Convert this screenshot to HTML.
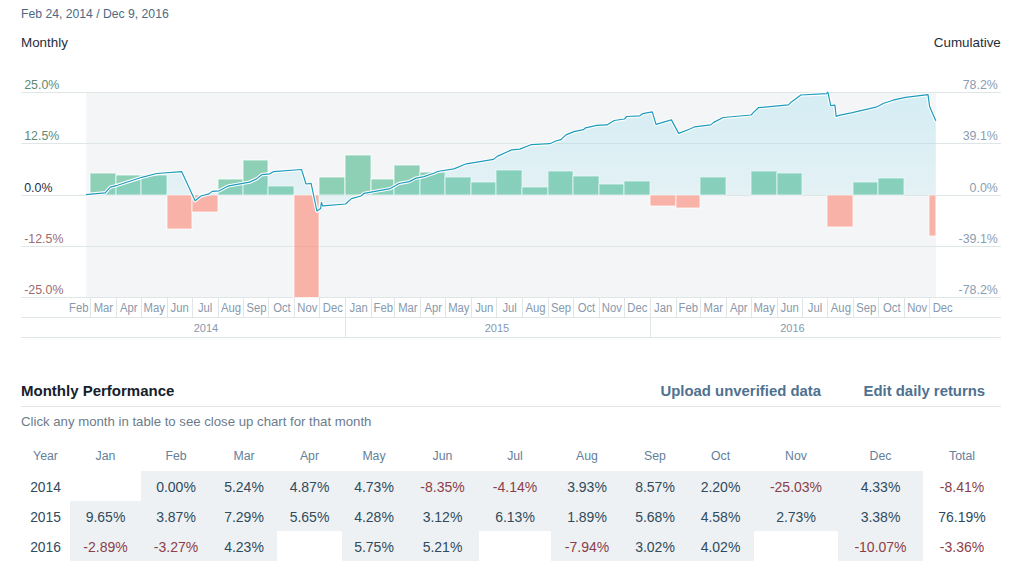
<!DOCTYPE html>
<html><head><meta charset="utf-8"><title>Performance</title>
<style>
html,body{margin:0;padding:0;background:#fff;}
body{width:1012px;height:580px;position:relative;overflow:hidden;font-family:"Liberation Sans",sans-serif;}
.abs{position:absolute;white-space:nowrap;line-height:1;}
.date{left:21px;top:8.4px;font-size:12.2px;color:#4d6a84;}
.lbl{top:36.4px;font-size:13.4px;color:#1f2d3a;}
.chart{position:absolute;left:0;top:0;}
.chart text{font-family:"Liberation Sans",sans-serif;}
.ax{font-size:12.4px;}
.mx{font-size:12px;fill:#8799ad;}
.yx{font-size:11px;}
.h2{left:21px;top:383.4px;font-size:15px;font-weight:bold;color:#15202b;}
.lnk{top:383.6px;font-size:14.9px;font-weight:bold;color:#4f7190;}
.rule{position:absolute;left:21px;top:406px;width:980px;height:1px;background:#e1e6e9;}
.hint{left:21px;top:414.5px;font-size:13.2px;color:#6b7c8c;}
table.perf{position:absolute;left:21px;top:441px;border-collapse:collapse;table-layout:fixed;width:980px;}
.perf td{padding:3px 0 0 0;height:27px;line-height:27px;text-align:center;font-size:14px;color:#2f4b5c;}
.perf tr.hd td{font-size:12.3px;color:#64809a;padding:0;height:30px;line-height:30px;}
.perf td.v{background:#eef1f4;}
.perf td.yr{font-size:13.8px;}
.perf td.neg{color:#8a3f49;}
</style></head><body>
<div class="abs date">Feb 24, 2014 / Dec 9, 2016</div>
<div class="abs lbl" style="left:21px">Monthly</div>
<div class="abs lbl" style="left:933.8px">Cumulative</div>
<svg class="chart" width="1012" height="345" viewBox="0 0 1012 345">
<defs><linearGradient id="fillg" x1="0" y1="0" x2="0" y2="1"><stop offset="0" stop-color="#4ccbe3" stop-opacity="0.19"/><stop offset="1" stop-color="#4ccbe3" stop-opacity="0.08"/></linearGradient><clipPath id="plotclip"><rect x="86.28" y="80" width="849.62" height="218"/></clipPath></defs>
<rect x="86.28" y="92.5" width="849.62" height="205" fill="#f4f5f7"/>
<line x1="21" x2="1001" y1="92.50" y2="92.50" stroke="#dfe6e6" stroke-width="1"/>
<line x1="21" x2="1001" y1="143.50" y2="143.50" stroke="#dfe6e6" stroke-width="1"/>
<line x1="21" x2="1001" y1="195.50" y2="195.50" stroke="#dfe6e6" stroke-width="1"/>
<line x1="21" x2="1001" y1="246.50" y2="246.50" stroke="#dfe6e6" stroke-width="1"/>
<line x1="21" x2="1001" y1="297.50" y2="297.50" stroke="#dfe6e6" stroke-width="1"/>
<rect x="90.00" y="173.00" width="26.00" height="22.00" fill="#4ab78b" fill-opacity="0.6" stroke="#ffffff" stroke-opacity="0.75" stroke-width="1"/>
<rect x="116.00" y="175.00" width="25.00" height="20.00" fill="#4ab78b" fill-opacity="0.6" stroke="#ffffff" stroke-opacity="0.75" stroke-width="1"/>
<rect x="141.00" y="175.00" width="26.00" height="20.00" fill="#4ab78b" fill-opacity="0.6" stroke="#ffffff" stroke-opacity="0.75" stroke-width="1"/>
<rect x="167.00" y="195.00" width="25.00" height="34.00" fill="#fb8573" fill-opacity="0.6" stroke="#ffffff" stroke-opacity="0.75" stroke-width="1"/>
<rect x="192.00" y="195.00" width="26.00" height="17.00" fill="#fb8573" fill-opacity="0.6" stroke="#ffffff" stroke-opacity="0.75" stroke-width="1"/>
<rect x="218.00" y="179.00" width="25.00" height="16.00" fill="#4ab78b" fill-opacity="0.6" stroke="#ffffff" stroke-opacity="0.75" stroke-width="1"/>
<rect x="243.00" y="160.00" width="25.00" height="35.00" fill="#4ab78b" fill-opacity="0.6" stroke="#ffffff" stroke-opacity="0.75" stroke-width="1"/>
<rect x="268.00" y="186.00" width="26.00" height="9.00" fill="#4ab78b" fill-opacity="0.6" stroke="#ffffff" stroke-opacity="0.75" stroke-width="1"/>
<rect x="294.00" y="195.00" width="25.00" height="102.50" fill="#fb8573" fill-opacity="0.6" stroke="#ffffff" stroke-opacity="0.75" stroke-width="1"/>
<rect x="319.00" y="177.00" width="26.00" height="18.00" fill="#4ab78b" fill-opacity="0.6" stroke="#ffffff" stroke-opacity="0.75" stroke-width="1"/>
<rect x="345.00" y="155.00" width="26.00" height="40.00" fill="#4ab78b" fill-opacity="0.6" stroke="#ffffff" stroke-opacity="0.75" stroke-width="1"/>
<rect x="371.00" y="179.00" width="23.00" height="16.00" fill="#4ab78b" fill-opacity="0.6" stroke="#ffffff" stroke-opacity="0.75" stroke-width="1"/>
<rect x="394.00" y="165.00" width="26.00" height="30.00" fill="#4ab78b" fill-opacity="0.6" stroke="#ffffff" stroke-opacity="0.75" stroke-width="1"/>
<rect x="420.00" y="172.00" width="25.00" height="23.00" fill="#4ab78b" fill-opacity="0.6" stroke="#ffffff" stroke-opacity="0.75" stroke-width="1"/>
<rect x="445.00" y="177.00" width="26.00" height="18.00" fill="#4ab78b" fill-opacity="0.6" stroke="#ffffff" stroke-opacity="0.75" stroke-width="1"/>
<rect x="471.00" y="182.00" width="25.00" height="13.00" fill="#4ab78b" fill-opacity="0.6" stroke="#ffffff" stroke-opacity="0.75" stroke-width="1"/>
<rect x="496.00" y="170.00" width="26.00" height="25.00" fill="#4ab78b" fill-opacity="0.6" stroke="#ffffff" stroke-opacity="0.75" stroke-width="1"/>
<rect x="522.00" y="187.00" width="26.00" height="8.00" fill="#4ab78b" fill-opacity="0.6" stroke="#ffffff" stroke-opacity="0.75" stroke-width="1"/>
<rect x="548.00" y="171.00" width="25.00" height="24.00" fill="#4ab78b" fill-opacity="0.6" stroke="#ffffff" stroke-opacity="0.75" stroke-width="1"/>
<rect x="573.00" y="176.00" width="26.00" height="19.00" fill="#4ab78b" fill-opacity="0.6" stroke="#ffffff" stroke-opacity="0.75" stroke-width="1"/>
<rect x="599.00" y="184.00" width="25.00" height="11.00" fill="#4ab78b" fill-opacity="0.6" stroke="#ffffff" stroke-opacity="0.75" stroke-width="1"/>
<rect x="624.00" y="181.00" width="26.00" height="14.00" fill="#4ab78b" fill-opacity="0.6" stroke="#ffffff" stroke-opacity="0.75" stroke-width="1"/>
<rect x="650.00" y="195.00" width="26.00" height="11.00" fill="#fb8573" fill-opacity="0.6" stroke="#ffffff" stroke-opacity="0.75" stroke-width="1"/>
<rect x="676.00" y="195.00" width="24.00" height="13.00" fill="#fb8573" fill-opacity="0.6" stroke="#ffffff" stroke-opacity="0.75" stroke-width="1"/>
<rect x="700.00" y="177.00" width="26.00" height="18.00" fill="#4ab78b" fill-opacity="0.6" stroke="#ffffff" stroke-opacity="0.75" stroke-width="1"/>
<rect x="751.00" y="171.00" width="26.00" height="24.00" fill="#4ab78b" fill-opacity="0.6" stroke="#ffffff" stroke-opacity="0.75" stroke-width="1"/>
<rect x="777.00" y="173.00" width="25.00" height="22.00" fill="#4ab78b" fill-opacity="0.6" stroke="#ffffff" stroke-opacity="0.75" stroke-width="1"/>
<rect x="827.00" y="195.00" width="26.00" height="32.00" fill="#fb8573" fill-opacity="0.6" stroke="#ffffff" stroke-opacity="0.75" stroke-width="1"/>
<rect x="853.00" y="182.00" width="25.00" height="13.00" fill="#4ab78b" fill-opacity="0.6" stroke="#ffffff" stroke-opacity="0.75" stroke-width="1"/>
<rect x="878.00" y="178.00" width="26.00" height="17.00" fill="#4ab78b" fill-opacity="0.6" stroke="#ffffff" stroke-opacity="0.75" stroke-width="1"/>
<rect x="929.00" y="195.00" width="6.90" height="41.00" fill="#fb8573" fill-opacity="0.6" stroke="#ffffff" stroke-opacity="0.75" stroke-width="1"/>
<g clip-path="url(#plotclip)"><polygon points="85.9,195.0 85.9,194.7 105.2,192.8 110.3,187.2 116.1,185.7 141.8,177.3 156.6,173.5 181.6,171.6 195.1,200.8 200.9,196.0 209.0,193.9 212.2,191.4 219.3,190.8 227.6,186.2 249.5,182.1 256.5,178.9 261.7,174.7 270.0,173.8 273.5,171.6 301.5,169.5 306.0,184.0 311.1,183.4 316.9,211.0 320.7,208.4 321.4,202.4 322.7,205.9 345.6,204.0 351.5,198.6 361.0,196.0 364.0,193.3 390.3,188.6 399.1,183.5 409.4,181.6 416.0,178.1 424.0,176.6 435.8,172.5 437.3,171.5 453.9,168.9 466.4,163.8 493.5,159.4 497.2,156.4 511.8,149.8 519.9,149.1 530.9,144.7 549.9,143.7 555.8,141.0 560.9,139.6 566.0,134.9 573.9,131.6 583.4,129.7 585.6,127.8 596.6,125.3 606.9,124.9 614.2,120.5 624.5,119.0 626.7,116.5 639.9,115.8 642.8,113.6 652.3,111.8 656.0,124.3 671.4,119.9 678.7,133.4 690.0,129.0 694.7,126.8 710.8,124.9 713.7,122.4 723.2,117.5 751.1,115.0 753.3,112.6 758.4,107.7 788.5,104.8 791.4,101.9 800.9,95.0 826.4,93.7 827.9,92.1 830.7,105.6 834.9,105.1 836.2,116.5 838.8,115.4 851.2,112.9 876.0,107.2 883.8,103.3 893.1,100.2 905.5,97.4 928.0,94.7 929.6,106.4 935.8,120.7 935.8,195.0" fill="url(#fillg)"/></g>
<polyline points="85.9,194.7 105.2,192.8 110.3,187.2 116.1,185.7 141.8,177.3 156.6,173.5 181.6,171.6 195.1,200.8 200.9,196.0 209.0,193.9 212.2,191.4 219.3,190.8 227.6,186.2 249.5,182.1 256.5,178.9 261.7,174.7 270.0,173.8 273.5,171.6 301.5,169.5 306.0,184.0 311.1,183.4 316.9,211.0 320.7,208.4 321.4,202.4 322.7,205.9 345.6,204.0 351.5,198.6 361.0,196.0 364.0,193.3 390.3,188.6 399.1,183.5 409.4,181.6 416.0,178.1 424.0,176.6 435.8,172.5 437.3,171.5 453.9,168.9 466.4,163.8 493.5,159.4 497.2,156.4 511.8,149.8 519.9,149.1 530.9,144.7 549.9,143.7 555.8,141.0 560.9,139.6 566.0,134.9 573.9,131.6 583.4,129.7 585.6,127.8 596.6,125.3 606.9,124.9 614.2,120.5 624.5,119.0 626.7,116.5 639.9,115.8 642.8,113.6 652.3,111.8 656.0,124.3 671.4,119.9 678.7,133.4 690.0,129.0 694.7,126.8 710.8,124.9 713.7,122.4 723.2,117.5 751.1,115.0 753.3,112.6 758.4,107.7 788.5,104.8 791.4,101.9 800.9,95.0 826.4,93.7 827.9,92.1 830.7,105.6 834.9,105.1 836.2,116.5 838.8,115.4 851.2,112.9 876.0,107.2 883.8,103.3 893.1,100.2 905.5,97.4 928.0,94.7 929.6,106.4 935.8,120.7" fill="none" stroke="#ffffff" stroke-width="3.4" stroke-linejoin="round" stroke-opacity="1"/>
<polyline points="85.9,194.7 105.2,192.8 110.3,187.2 116.1,185.7 141.8,177.3 156.6,173.5 181.6,171.6 195.1,200.8 200.9,196.0 209.0,193.9 212.2,191.4 219.3,190.8 227.6,186.2 249.5,182.1 256.5,178.9 261.7,174.7 270.0,173.8 273.5,171.6 301.5,169.5 306.0,184.0 311.1,183.4 316.9,211.0 320.7,208.4 321.4,202.4 322.7,205.9 345.6,204.0 351.5,198.6 361.0,196.0 364.0,193.3 390.3,188.6 399.1,183.5 409.4,181.6 416.0,178.1 424.0,176.6 435.8,172.5 437.3,171.5 453.9,168.9 466.4,163.8 493.5,159.4 497.2,156.4 511.8,149.8 519.9,149.1 530.9,144.7 549.9,143.7 555.8,141.0 560.9,139.6 566.0,134.9 573.9,131.6 583.4,129.7 585.6,127.8 596.6,125.3 606.9,124.9 614.2,120.5 624.5,119.0 626.7,116.5 639.9,115.8 642.8,113.6 652.3,111.8 656.0,124.3 671.4,119.9 678.7,133.4 690.0,129.0 694.7,126.8 710.8,124.9 713.7,122.4 723.2,117.5 751.1,115.0 753.3,112.6 758.4,107.7 788.5,104.8 791.4,101.9 800.9,95.0 826.4,93.7 827.9,92.1 830.7,105.6 834.9,105.1 836.2,116.5 838.8,115.4 851.2,112.9 876.0,107.2 883.8,103.3 893.1,100.2 905.5,97.4 928.0,94.7 929.6,106.4 935.8,120.7" fill="none" stroke="#1f9bbd" stroke-width="1.2" stroke-linejoin="round"/>
<text x="24.2" y="89.00" class="ax" fill="#5e8a74">25.0%</text>
<text x="24.2" y="140.00" class="ax" fill="#5e8a74">12.5%</text>
<text x="24.2" y="192.00" class="ax" fill="#1f2f42">0.0%</text>
<text x="24.2" y="243.00" class="ax" fill="#9d6c70">-12.5%</text>
<text x="24.2" y="294.00" class="ax" fill="#9d6c70">-25.0%</text>
<text x="997.8" y="89.00" class="ax" text-anchor="end" fill="#8b9db0">78.2%</text>
<text x="997.8" y="140.00" class="ax" text-anchor="end" fill="#8b9db0">39.1%</text>
<text x="997.8" y="192.00" class="ax" text-anchor="end" fill="#8b9db0">0.0%</text>
<text x="997.8" y="243.00" class="ax" text-anchor="end" fill="#8b9db0">-39.1%</text>
<text x="997.8" y="294.00" class="ax" text-anchor="end" fill="#8b9db0">-78.2%</text>
<line x1="21" x2="1001" y1="317.5" y2="317.5" stroke="#dfe6e6" stroke-width="1"/>
<line x1="21" x2="1001" y1="337.5" y2="337.5" stroke="#dfe6e6" stroke-width="1"/>
<text x="78.77" y="312" class="mx" text-anchor="middle" textLength="19.45" lengthAdjust="spacingAndGlyphs">Feb</text>
<line x1="90.5" x2="90.5" y1="297.5" y2="317.5" stroke="#dfe6e6" stroke-width="1"/>
<text x="103.38" y="312" class="mx" text-anchor="middle" textLength="19.44" lengthAdjust="spacingAndGlyphs">Mar</text>
<line x1="116.5" x2="116.5" y1="297.5" y2="317.5" stroke="#dfe6e6" stroke-width="1"/>
<text x="128.83" y="312" class="mx" text-anchor="middle" textLength="17.57" lengthAdjust="spacingAndGlyphs">Apr</text>
<line x1="141.5" x2="141.5" y1="297.5" y2="317.5" stroke="#dfe6e6" stroke-width="1"/>
<text x="154.27" y="312" class="mx" text-anchor="middle" textLength="21.33" lengthAdjust="spacingAndGlyphs">May</text>
<line x1="167.5" x2="167.5" y1="297.5" y2="317.5" stroke="#dfe6e6" stroke-width="1"/>
<text x="179.72" y="312" class="mx" text-anchor="middle" textLength="18.20" lengthAdjust="spacingAndGlyphs">Jun</text>
<line x1="192.5" x2="192.5" y1="297.5" y2="317.5" stroke="#dfe6e6" stroke-width="1"/>
<text x="205.17" y="312" class="mx" text-anchor="middle" textLength="14.43" lengthAdjust="spacingAndGlyphs">Jul</text>
<line x1="218.5" x2="218.5" y1="297.5" y2="317.5" stroke="#dfe6e6" stroke-width="1"/>
<text x="231.03" y="312" class="mx" text-anchor="middle" textLength="20.09" lengthAdjust="spacingAndGlyphs">Aug</text>
<line x1="243.5" x2="243.5" y1="297.5" y2="317.5" stroke="#dfe6e6" stroke-width="1"/>
<text x="256.47" y="312" class="mx" text-anchor="middle" textLength="20.09" lengthAdjust="spacingAndGlyphs">Sep</text>
<line x1="268.5" x2="268.5" y1="297.5" y2="317.5" stroke="#dfe6e6" stroke-width="1"/>
<text x="281.92" y="312" class="mx" text-anchor="middle" textLength="17.56" lengthAdjust="spacingAndGlyphs">Oct</text>
<line x1="294.5" x2="294.5" y1="297.5" y2="317.5" stroke="#dfe6e6" stroke-width="1"/>
<text x="307.37" y="312" class="mx" text-anchor="middle" textLength="20.08" lengthAdjust="spacingAndGlyphs">Nov</text>
<line x1="319.5" x2="319.5" y1="297.5" y2="317.5" stroke="#dfe6e6" stroke-width="1"/>
<text x="332.81" y="312" class="mx" text-anchor="middle" textLength="20.08" lengthAdjust="spacingAndGlyphs">Dec</text>
<line x1="345.5" x2="345.5" y1="297.5" y2="337.5" stroke="#dfe6e6" stroke-width="1"/>
<text x="358.68" y="312" class="mx" text-anchor="middle" textLength="18.20" lengthAdjust="spacingAndGlyphs">Jan</text>
<line x1="371.5" x2="371.5" y1="297.5" y2="317.5" stroke="#dfe6e6" stroke-width="1"/>
<text x="383.29" y="312" class="mx" text-anchor="middle" textLength="19.45" lengthAdjust="spacingAndGlyphs">Feb</text>
<line x1="394.5" x2="394.5" y1="297.5" y2="317.5" stroke="#dfe6e6" stroke-width="1"/>
<text x="407.90" y="312" class="mx" text-anchor="middle" textLength="19.44" lengthAdjust="spacingAndGlyphs">Mar</text>
<line x1="420.5" x2="420.5" y1="297.5" y2="317.5" stroke="#dfe6e6" stroke-width="1"/>
<text x="433.34" y="312" class="mx" text-anchor="middle" textLength="17.57" lengthAdjust="spacingAndGlyphs">Apr</text>
<line x1="445.5" x2="445.5" y1="297.5" y2="317.5" stroke="#dfe6e6" stroke-width="1"/>
<text x="458.79" y="312" class="mx" text-anchor="middle" textLength="21.33" lengthAdjust="spacingAndGlyphs">May</text>
<line x1="471.5" x2="471.5" y1="297.5" y2="317.5" stroke="#dfe6e6" stroke-width="1"/>
<text x="484.24" y="312" class="mx" text-anchor="middle" textLength="18.20" lengthAdjust="spacingAndGlyphs">Jun</text>
<line x1="496.5" x2="496.5" y1="297.5" y2="317.5" stroke="#dfe6e6" stroke-width="1"/>
<text x="509.68" y="312" class="mx" text-anchor="middle" textLength="14.43" lengthAdjust="spacingAndGlyphs">Jul</text>
<line x1="522.5" x2="522.5" y1="297.5" y2="317.5" stroke="#dfe6e6" stroke-width="1"/>
<text x="535.55" y="312" class="mx" text-anchor="middle" textLength="20.09" lengthAdjust="spacingAndGlyphs">Aug</text>
<line x1="548.5" x2="548.5" y1="297.5" y2="317.5" stroke="#dfe6e6" stroke-width="1"/>
<text x="560.99" y="312" class="mx" text-anchor="middle" textLength="20.09" lengthAdjust="spacingAndGlyphs">Sep</text>
<line x1="573.5" x2="573.5" y1="297.5" y2="317.5" stroke="#dfe6e6" stroke-width="1"/>
<text x="586.44" y="312" class="mx" text-anchor="middle" textLength="17.56" lengthAdjust="spacingAndGlyphs">Oct</text>
<line x1="599.5" x2="599.5" y1="297.5" y2="317.5" stroke="#dfe6e6" stroke-width="1"/>
<text x="611.88" y="312" class="mx" text-anchor="middle" textLength="20.08" lengthAdjust="spacingAndGlyphs">Nov</text>
<line x1="624.5" x2="624.5" y1="297.5" y2="317.5" stroke="#dfe6e6" stroke-width="1"/>
<text x="637.33" y="312" class="mx" text-anchor="middle" textLength="20.08" lengthAdjust="spacingAndGlyphs">Dec</text>
<line x1="650.5" x2="650.5" y1="297.5" y2="337.5" stroke="#dfe6e6" stroke-width="1"/>
<text x="663.19" y="312" class="mx" text-anchor="middle" textLength="18.20" lengthAdjust="spacingAndGlyphs">Jan</text>
<line x1="676.5" x2="676.5" y1="297.5" y2="317.5" stroke="#dfe6e6" stroke-width="1"/>
<text x="688.22" y="312" class="mx" text-anchor="middle" textLength="19.45" lengthAdjust="spacingAndGlyphs">Feb</text>
<line x1="700.5" x2="700.5" y1="297.5" y2="317.5" stroke="#dfe6e6" stroke-width="1"/>
<text x="713.25" y="312" class="mx" text-anchor="middle" textLength="19.44" lengthAdjust="spacingAndGlyphs">Mar</text>
<line x1="726.5" x2="726.5" y1="297.5" y2="317.5" stroke="#dfe6e6" stroke-width="1"/>
<text x="738.70" y="312" class="mx" text-anchor="middle" textLength="17.57" lengthAdjust="spacingAndGlyphs">Apr</text>
<line x1="751.5" x2="751.5" y1="297.5" y2="317.5" stroke="#dfe6e6" stroke-width="1"/>
<text x="764.14" y="312" class="mx" text-anchor="middle" textLength="21.33" lengthAdjust="spacingAndGlyphs">May</text>
<line x1="777.5" x2="777.5" y1="297.5" y2="317.5" stroke="#dfe6e6" stroke-width="1"/>
<text x="789.59" y="312" class="mx" text-anchor="middle" textLength="18.20" lengthAdjust="spacingAndGlyphs">Jun</text>
<line x1="802.5" x2="802.5" y1="297.5" y2="317.5" stroke="#dfe6e6" stroke-width="1"/>
<text x="815.03" y="312" class="mx" text-anchor="middle" textLength="14.43" lengthAdjust="spacingAndGlyphs">Jul</text>
<line x1="827.5" x2="827.5" y1="297.5" y2="317.5" stroke="#dfe6e6" stroke-width="1"/>
<text x="840.90" y="312" class="mx" text-anchor="middle" textLength="20.09" lengthAdjust="spacingAndGlyphs">Aug</text>
<line x1="853.5" x2="853.5" y1="297.5" y2="317.5" stroke="#dfe6e6" stroke-width="1"/>
<text x="866.34" y="312" class="mx" text-anchor="middle" textLength="20.09" lengthAdjust="spacingAndGlyphs">Sep</text>
<line x1="878.5" x2="878.5" y1="297.5" y2="317.5" stroke="#dfe6e6" stroke-width="1"/>
<text x="891.79" y="312" class="mx" text-anchor="middle" textLength="17.56" lengthAdjust="spacingAndGlyphs">Oct</text>
<line x1="904.5" x2="904.5" y1="297.5" y2="317.5" stroke="#dfe6e6" stroke-width="1"/>
<text x="917.24" y="312" class="mx" text-anchor="middle" textLength="20.08" lengthAdjust="spacingAndGlyphs">Nov</text>
<line x1="929.5" x2="929.5" y1="297.5" y2="317.5" stroke="#dfe6e6" stroke-width="1"/>
<text x="942.68" y="312" class="mx" text-anchor="middle" textLength="20.08" lengthAdjust="spacingAndGlyphs">Dec</text>
<text x="206.0" y="331.8" class="mx yx" text-anchor="middle">2014</text>
<text x="496.9" y="331.8" class="mx yx" text-anchor="middle">2015</text>
<text x="792.4" y="331.8" class="mx yx" text-anchor="middle">2016</text>
</svg>
<div class="abs h2">Monthly Performance</div>
<div class="abs lnk" style="left:660.5px">Upload unverified data</div>
<div class="abs lnk" style="left:863.5px">Edit daily returns</div>
<div class="rule"></div>
<div class="abs hint">Click any month in table to see close up chart for that month</div>
<table class="perf"><colgroup><col style="width:49px"><col style="width:71px"><col style="width:70px"><col style="width:66px"><col style="width:65px"><col style="width:64px"><col style="width:73px"><col style="width:72px"><col style="width:72px"><col style="width:64px"><col style="width:67px"><col style="width:84px"><col style="width:85px"><col style="width:78px"></colgroup><tr class="hd"><td>Year</td><td>Jan</td><td>Feb</td><td>Mar</td><td>Apr</td><td>May</td><td>Jun</td><td>Jul</td><td>Aug</td><td>Sep</td><td>Oct</td><td>Nov</td><td>Dec</td><td>Total</td></tr>
<tr><td class="yr">2014</td><td class="e"></td><td class="v">0.00%</td><td class="v">5.24%</td><td class="v">4.87%</td><td class="v">4.73%</td><td class="v neg">-8.35%</td><td class="v neg">-4.14%</td><td class="v">3.93%</td><td class="v">8.57%</td><td class="v">2.20%</td><td class="v neg">-25.03%</td><td class="v">4.33%</td><td class="t neg">-8.41%</td></tr>
<tr><td class="yr">2015</td><td class="v">9.65%</td><td class="v">3.87%</td><td class="v">7.29%</td><td class="v">5.65%</td><td class="v">4.28%</td><td class="v">3.12%</td><td class="v">6.13%</td><td class="v">1.89%</td><td class="v">5.68%</td><td class="v">4.58%</td><td class="v">2.73%</td><td class="v">3.38%</td><td class="t">76.19%</td></tr>
<tr><td class="yr">2016</td><td class="v neg">-2.89%</td><td class="v neg">-3.27%</td><td class="v">4.23%</td><td class="e"></td><td class="v">5.75%</td><td class="v">5.21%</td><td class="e"></td><td class="v neg">-7.94%</td><td class="v">3.02%</td><td class="v">4.02%</td><td class="e"></td><td class="v neg">-10.07%</td><td class="t neg">-3.36%</td></tr></table>
</body></html>
